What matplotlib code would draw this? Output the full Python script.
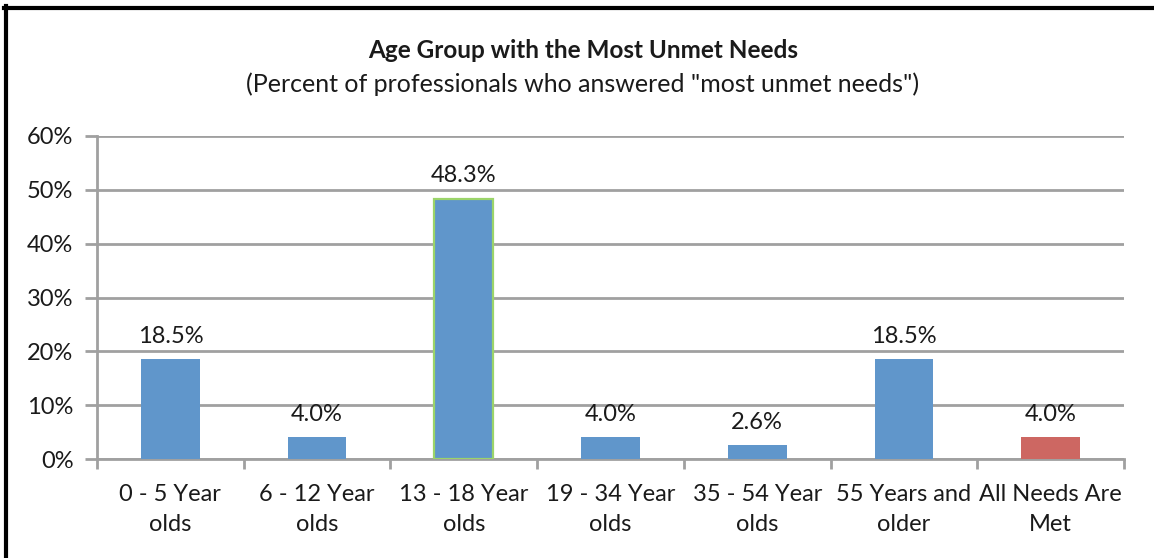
import matplotlib.pyplot as plt
from matplotlib.lines import Line2D

categories = ["0 - 5 Year\nolds", "6 - 12 Year\nolds", "13 - 18 Year\nolds",
              "19 - 34 Year\nolds", "35 - 54 Year\nolds", "55 Years and\nolder",
              "All Needs Are\nMet"]
values = [18.5, 4.0, 48.3, 4.0, 2.6, 18.5, 4.0]
labels = ["18.5%", "4.0%", "48.3%", "4.0%", "2.6%", "18.5%", "4.0%"]
yticks = [0, 10, 20, 30, 40, 50, 60]

blue = "#6096CB"
red = "#CD6762"
grid = "#A0A0A0"
txt = "#1a1a1a"
fs = 17

plt.rcParams['font.family'] = ['Lato', 'DejaVu Sans']

W, H = 1154, 558
fig = plt.figure(figsize=(W / 100, H / 100), dpi=100)
ax = fig.add_axes([97 / W, 1 - 459 / H, (1124 - 97) / W, (459 - 136) / H])

colors = [blue] * len(values)
colors[-1] = red
x = list(range(len(values)))
bars = ax.bar(x, values, width=0.4, color=colors, zorder=3)
bars[2].set_edgecolor("#9BD46A")
bars[2].set_linewidth(1.6)

for xi, v, lab in zip(x, values, labels):
    ax.annotate(lab, (xi, v), xytext=(0, 9), textcoords="offset points",
                ha="center", va="bottom", fontsize=fs, color=txt)

ax.set_xlim(-0.5, len(values) - 0.5)
ax.set_ylim(0, 60)
ax.set_yticks(yticks)
ax.set_yticklabels([f"{t}%" for t in yticks], fontsize=fs, color=txt)
ax.yaxis.grid(True, color=grid, linewidth=2, zorder=0)
ax.set_axisbelow(True)

ax.set_xticks([i - 0.5 for i in range(len(values) + 1)])
ax.set_xticklabels([])
ax.set_xticks(x, minor=True)
ax.set_xticklabels(categories, minor=True, fontsize=fs, color=txt,
                   linespacing=1.55)
ax.tick_params(axis="x", which="minor", length=0, pad=18)
ax.tick_params(axis="x", which="major", length=7, width=2, color=grid)
ax.tick_params(axis="y", length=9, width=2, color=grid, pad=8)

for side in ["top", "right"]:
    ax.spines[side].set_visible(False)
for side in ["left", "bottom"]:
    ax.spines[side].set_color(grid)
    ax.spines[side].set_linewidth(2)

fig.text(583 / W, 1 - 50 / H, "Age Group with the Most Unmet Needs",
         ha="center", va="center", fontsize=17.5, fontweight="bold", color=txt)
fig.text(583 / W, 1 - 84 / H,
         '(Percent of professionals who answered "most unmet needs")',
         ha="center", va="center", fontsize=18, color=txt)

# frame lines along the left and top edges
fig.add_artist(Line2D([5.5 / W, 5.5 / W], [0, 1 - 5.5 / H], color="black",
                      linewidth=3, transform=fig.transFigure))
fig.add_artist(Line2D([4 / W, 1], [1 - 7.5 / H, 1 - 7.5 / H], color="black",
                      linewidth=3, transform=fig.transFigure))

fig.savefig("out.png", dpi=100)
